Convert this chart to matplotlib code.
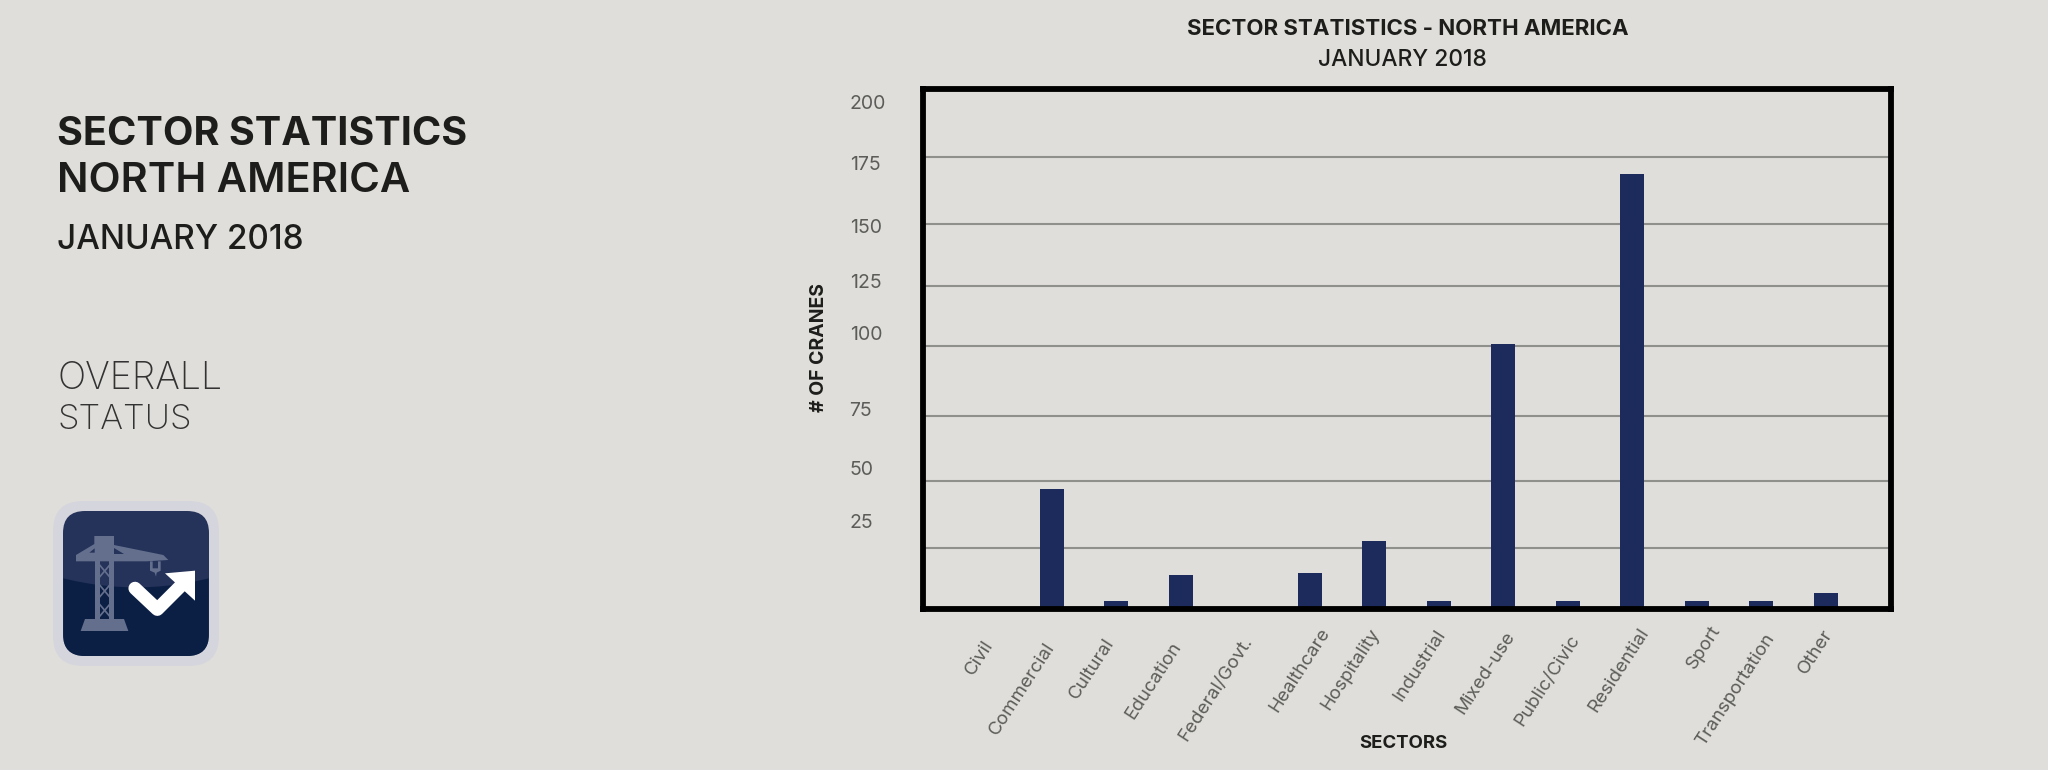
import matplotlib
matplotlib.use("Agg")
from matplotlib import pyplot as plt
from matplotlib.patches import FancyBboxPatch, Polygon
from matplotlib.transforms import ScaledTranslation
import numpy as np

# Chart data
sectors = ["Civil", "Commercial", "Cultural", "Education", "Federal/Govt.", "Healthcare", "Hospitality",
           "Industrial", "Mixed-use", "Public/Civic", "Residential", "Sport", "Transportation", "Other"]
cranes = [0, 46, 3, 13, 0, 14, 26, 3, 102, 3, 167, 3, 3, 6]
y_labels = ["25", "50", "75", "100", "125", "150", "175", "200"]
# the printed scale is hand placed: labels and rules do not sit on even steps
y_label_levels = [34, 54, 77, 106, 126, 147, 171.5, 195]
grid_levels = [23.5, 49, 74, 101, 124, 148, 173.5]
# sector labels are hand placed too: per label nudges, in points
x_label_pads = [24, 25, 22, 25, 21, 15, 15, 16, 17, 20, 15, 13, 19, 16]
x_label_nudges = [2, 0, -4, -2, 3, 12, 1, 2, 6, 6, 9, 14, 7, 2]

BG = "#dfdeda"
NAVY = "#1c2a5c"
DARK = "#1d1d1b"
GREY = "#5c5c5a"
FONT = "Inter"
W, H = 2048, 770

plt.rcParams["font.family"] = FONT

fig = plt.figure(figsize=(W / 100, H / 100), dpi=100, facecolor=BG)

# Bar chart, frame centred on its thick border
left, right, top, bottom = 922.5, 1890.5, 88.5, 609
ax = fig.add_axes([left / W, 1 - bottom / H, (right - left) / W, (bottom - top) / H], facecolor=BG)
ax.set_xlim(-1.0, 14.0)
ax.set_ylim(0, 200)
ax.hlines(grid_levels, -1.0, 14.0, color="#8f8f8b", lw=1.5, zorder=1)
ax.bar(np.arange(len(sectors)), cranes, width=0.37, color=NAVY, zorder=2)

for spine in ax.spines.values():
    spine.set_linewidth(4.2)
    spine.set_color("black")
    spine.set_zorder(3)

ax.set_xticks(np.arange(len(sectors)), sectors, rotation=57, ha="right", va="center",
              rotation_mode="anchor", fontsize=13.5, color=GREY)
ax.set_yticks(y_label_levels, y_labels, ha="left", fontsize=14, color=GREY)
ax.tick_params(axis="x", length=0)
ax.tick_params(axis="y", length=0, pad=52.5)
for tick, pad, nudge in zip(ax.xaxis.get_major_ticks(), x_label_pads, x_label_nudges):
    tick.set_pad(pad)
    label = tick.label1
    label.set_transform(label.get_transform() + ScaledTranslation(nudge / 72, 0, fig.dpi_scale_trans))

# Everything else is placed in pixels on a full figure overlay
ov = fig.add_axes([0, 0, 1, 1], facecolor="none")
ov.set_xlim(0, W)
ov.set_ylim(H, 0)
ov.axis("off")

ov.text(57, 145, "SECTOR STATISTICS", fontsize=28.5, fontweight="bold", color=DARK)
ov.text(57, 192, "NORTH AMERICA", fontsize=30, fontweight="semibold", color=DARK)
ov.text(57, 249, "JANUARY 2018", fontsize=24, fontweight="medium", color=DARK)
ov.text(57, 389, "OVERALL", fontsize=27, fontweight="light", color="#333333")
ov.text(57, 429, "STATUS", fontsize=25, fontweight="light", color="#333333")

ov.text(1408, 35, "SECTOR STATISTICS - NORTH AMERICA", fontsize=16, fontweight="bold", color=DARK, ha="center")
ov.text(1402, 66, "JANUARY 2018", fontsize=16.4, fontweight="medium", color=DARK, ha="center")
ov.text(819, 347, "# OF CRANES", fontsize=14, fontweight="bold", color=DARK, rotation=90, ha="center", va="center")
ov.text(1403, 748, "SECTORS", fontsize=13.4, fontweight="bold", color=DARK, ha="center")


def z(*points):
    return [(x / 3, 480 + y / 3) for x, y in points]


CRANE = "#646f8e"
halo = FancyBboxPatch((72, 520), 128, 127, boxstyle="round,pad=19,rounding_size=30", fc="#d5d5dd", ec="none")
ov.add_patch(halo)
tile = FancyBboxPatch((75, 523), 122, 121, boxstyle="round,pad=12,rounding_size=22", fc="#253259", ec="none")
ov.add_patch(tile)
xs = np.linspace(190, 626, 30)
curve = 295 + 27 * (1 - ((xs - 408) / 218) ** 2)
lower = Polygon(z(*zip(xs, curve), (626, 530), (190, 530)), fc="#0b1f45", ec="none")
ov.add_patch(lower)
lower.set_clip_path(tile)

crane_parts = [
    [(283, 168), (342, 168), (342, 195), (490, 225), (505, 240), (440, 244), (228, 244), (228, 225), (283, 192)],
    [(285, 240), (300, 240), (300, 420), (285, 420)],
    [(328, 240), (342, 240), (342, 420), (328, 420)],
    [(255, 417), (372, 417), (385, 453), (242, 453)],
    [(298, 250), (330, 288), (330, 296), (298, 258)],
    [(330, 250), (298, 288), (298, 296), (330, 258)],
    [(298, 310), (330, 348), (330, 356), (298, 318)],
    [(330, 310), (298, 348), (298, 356), (330, 318)],
    [(298, 368), (330, 406), (330, 414), (298, 376)],
    [(330, 368), (298, 406), (298, 414), (330, 376)],
    [(450, 244), (458, 244), (458, 265), (474, 265), (474, 244), (482, 244), (482, 272), (470, 278), (468, 290),
     (464, 278), (450, 272)],
]
for part in crane_parts:
    ov.add_patch(Polygon(z(*part), fc=CRANE, ec="none"))
ov.add_patch(Polygon(z((268, 218), (284, 205), (284, 218)), fc="#253259", ec="none"))
ov.add_patch(Polygon(z((342, 205), (342, 222), (372, 222)), fc="#253259", ec="none"))

arrow = np.array(z((405, 325), (472, 388), (550, 310)))
ov.plot(arrow[:, 0], arrow[:, 1], color="white", lw=9.5, solid_capstyle="round", solid_joinstyle="round")
ov.add_patch(Polygon(z((495, 280), (585, 272), (585, 362)), fc="white", ec="none"))

fig.savefig("out.png", dpi=100, facecolor=BG)
